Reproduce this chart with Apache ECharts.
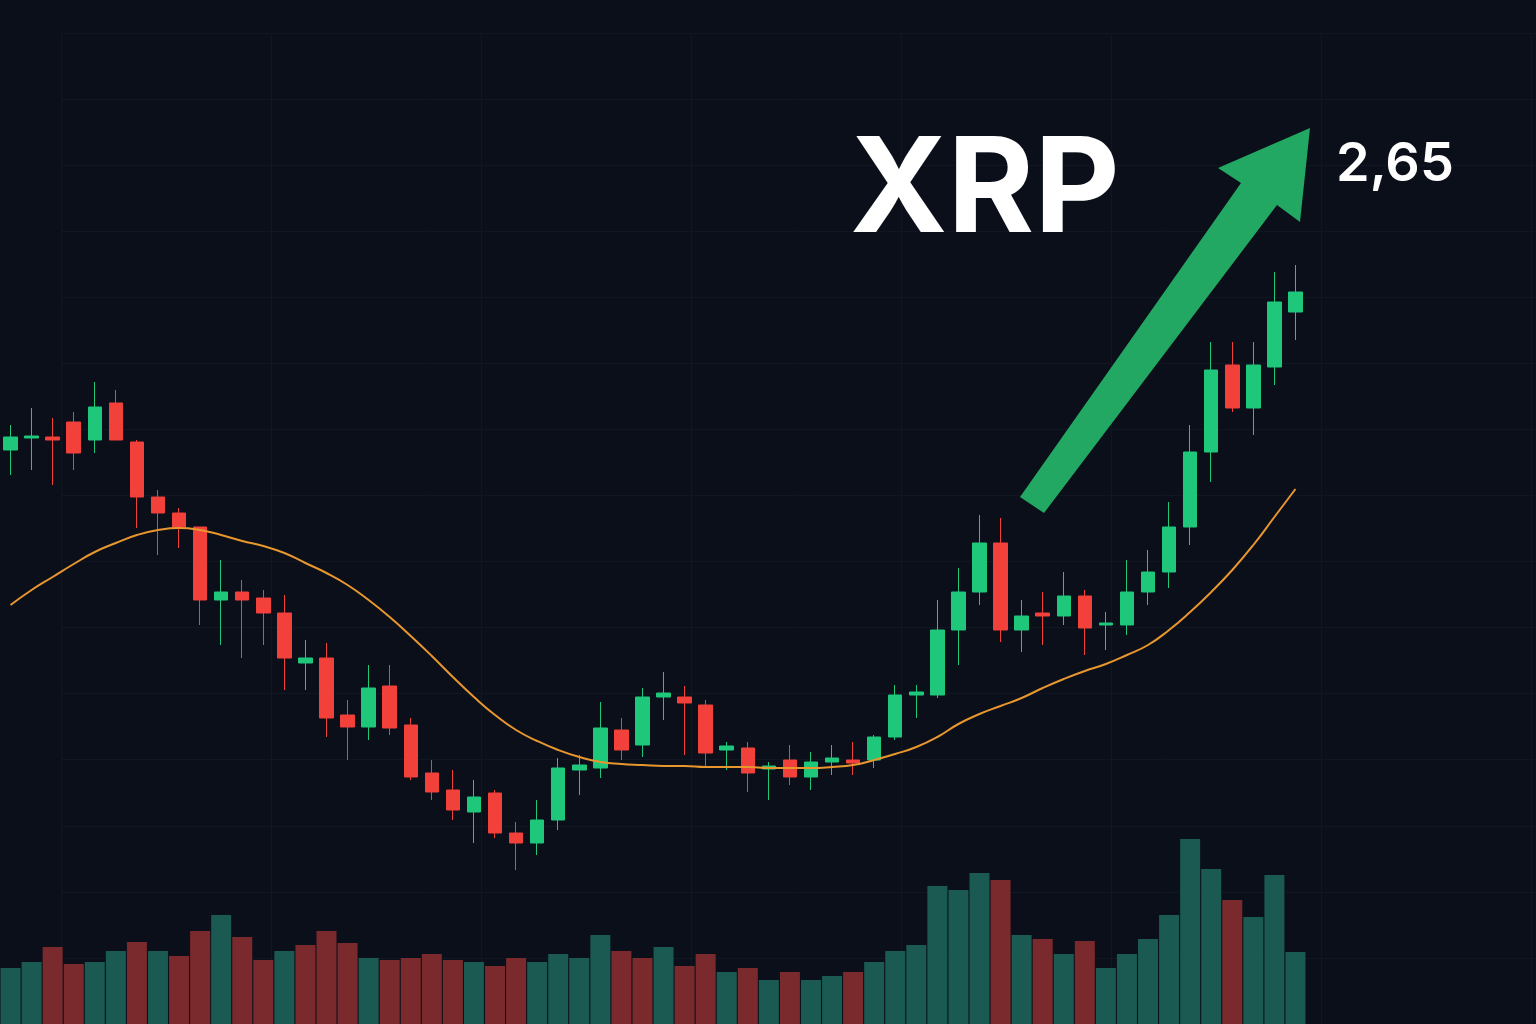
<!DOCTYPE html>
<html>
<head>
<meta charset="utf-8">
<script src="https://cdn.jsdelivr.net/npm/echarts@6/dist/echarts.min.js"></script>
<style>
html, body { margin: 0; padding: 0; background: #0b0f1a; }
#box { width: 1536px; height: 1024px; }
</style>
</head>
<body>
<div id="box"></div>
<script>
// price values are measured as (1024 - screen y), so higher = higher price
// [open, close, low, high] in screen y, converted below
var candlesY = [
    [450, 437, 475, 425], [438, 436, 470, 408], [437, 440, 485, 418], [422, 453, 470, 412],
    [440, 407, 453, 382], [403, 440, 440, 390], [442, 497, 528, 440], [497, 513, 555, 490],
    [513, 527, 548, 508], [527, 600, 625, 527], [600, 592, 645, 560], [592, 600, 658, 580],
    [598, 613, 645, 590], [613, 658, 690, 595], [663, 658, 690, 640], [658, 718, 737, 643],
    [715, 727, 760, 700], [727, 688, 740, 665], [686, 728, 735, 665], [725, 777, 780, 718],
    [773, 792, 800, 760], [790, 810, 820, 770], [812, 797, 843, 780], [793, 833, 838, 790],
    [833, 843, 870, 822], [843, 820, 855, 800], [820, 768, 830, 758], [770, 765, 795, 755],
    [768, 728, 778, 702], [730, 750, 760, 718], [745, 697, 757, 688], [697, 693, 720, 672],
    [697, 703, 755, 686], [705, 753, 768, 700], [750, 746, 770, 742], [748, 773, 792, 742],
    [769, 766, 800, 762], [760, 777, 785, 745], [777, 762, 790, 752], [762, 758, 775, 745],
    [760, 763, 775, 742], [760, 737, 768, 735], [737, 695, 740, 685], [695, 692, 718, 685],
    [695, 630, 698, 600], [630, 592, 665, 568], [592, 543, 605, 515], [543, 630, 642, 518],
    [630, 616, 652, 600], [613, 616, 645, 592], [616, 596, 625, 572], [596, 628, 655, 590],
    [625, 623, 650, 612], [625, 592, 635, 560], [592, 572, 605, 550], [572, 527, 588, 502],
    [527, 452, 545, 425], [452, 370, 482, 342], [365, 408, 412, 342], [408, 365, 435, 342],
    [367, 302, 385, 272], [312, 292, 340, 265]
];
var volumeTop = [
    968, 962, 947, 964, 962, 951, 942, 951, 956, 931, 915, 937, 960, 951, 945, 931,
    943, 958, 960, 958, 954, 960, 962, 966, 958, 962, 954, 958, 935, 951, 958, 947,
    966, 954, 972, 968, 980, 972, 980, 976, 972, 962, 951, 945, 886, 890, 873, 880,
    935, 939, 954, 941, 968, 954, 939, 915, 839, 869, 900, 917, 875, 952
];
// volume colour follows the picture, not the candle
var volumeUp = [
    1, 1, 0, 0, 1, 1, 0, 1, 0, 0, 1, 0, 0, 1, 0, 0,
    0, 1, 0, 0, 0, 0, 1, 0, 0, 1, 1, 1, 1, 0, 0, 1,
    0, 0, 1, 0, 1, 0, 1, 1, 0, 1, 1, 1, 1, 1, 1, 0,
    1, 0, 1, 0, 1, 1, 1, 1, 1, 1, 0, 1, 1, 1
];
var maY = [
    605, 590, 577, 564, 552, 543, 535, 530, 528, 530, 535, 541, 546, 553, 563, 573,
    585, 600, 617, 636, 656, 677, 697, 715, 730, 741, 750, 757, 762, 764, 765, 766,
    766, 767, 767, 767, 768, 768, 768, 767, 765, 760, 754, 747, 737, 724, 714, 706,
    698, 688, 679, 671, 664, 655, 645, 630, 612, 592, 570, 545, 517, 489
];
var titleText = 'XRP';
var priceText = '2,65';

var H = 1024;
var cats = candlesY.map(function (c, i) { return i + 1; });
var candles = candlesY.map(function (c) {
    return [H - c[0], H - c[1], H - c[2], H - c[3]];
});
var volumes = volumeTop.map(function (v, i) {
    return {
        value: H - v,
        itemStyle: { color: volumeUp[i] ? '#1b5953' : '#7a2a2c' }
    };
});
var ma = maY.map(function (v) { return H - v; });

var myChart = echarts.init(document.getElementById('box'));
var option = {
    backgroundColor: '#0b0f1a',
    animation: false,
    grid: [
        { left: 61, right: 0, top: 33, bottom: 0 },
        { left: 0, width: 1306, top: 0, bottom: 0 },
        { left: 0, width: 1306, top: 0, bottom: 0 }
    ],
    xAxis: [
        {
            gridIndex: 0, type: 'value', min: 0, max: 1475, interval: 210,
            axisLine: { show: false }, axisTick: { show: false }, axisLabel: { show: false },
            splitLine: { lineStyle: { color: '#111722', width: 1 } }
        },
        { gridIndex: 1, type: 'category', data: cats, show: false },
        { gridIndex: 2, type: 'category', data: cats, show: false }
    ],
    yAxis: [
        {
            gridIndex: 0, type: 'value', min: 0, max: 945, interval: 63, inverse: true,
            axisLine: { show: false }, axisTick: { show: false }, axisLabel: { show: false },
            splitLine: { lineStyle: { color: '#111722', width: 1 } }
        },
        { gridIndex: 1, type: 'value', min: 0, max: H, show: false },
        { gridIndex: 2, type: 'value', min: 0, max: H, show: false }
    ],
    series: [
        {
            type: 'bar', xAxisIndex: 2, yAxisIndex: 2,
            data: volumes, barCategoryGap: '5%'
        },
        {
            type: 'line', xAxisIndex: 1, yAxisIndex: 1,
            data: ma, smooth: true, symbol: 'none',
            lineStyle: { color: '#e8962e', width: 2 }
        },
        {
            type: 'candlestick', xAxisIndex: 1, yAxisIndex: 1,
            data: candles, barWidth: 14,
            itemStyle: {
                color: '#1fc77a', color0: '#f2413b',
                borderColor: '#1fc77a', borderColor0: '#f2413b', borderWidth: 1
            }
        }
    ],
    graphic: [
        {
            type: 'polygon', z: 100,
            shape: { points: [[1020, 497], [1044, 513], [1277, 205], [1300, 222], [1310, 128], [1218, 168], [1241, 183]] },
            style: { fill: '#22a862' }
        },
        {
            type: 'text', left: 850, top: 126, z: 100,
            style: { text: titleText, fill: '#ffffff', font: 'bold 132px Inter, "Open Sans", sans-serif' }
        },
        {
            type: 'text', left: 1336, top: 138, z: 100,
            style: { text: priceText, fill: '#ffffff', font: '600 54px Inter, "Open Sans", sans-serif' }
        }
    ]
};
myChart.setOption(option);
</script>
</body>
</html>
